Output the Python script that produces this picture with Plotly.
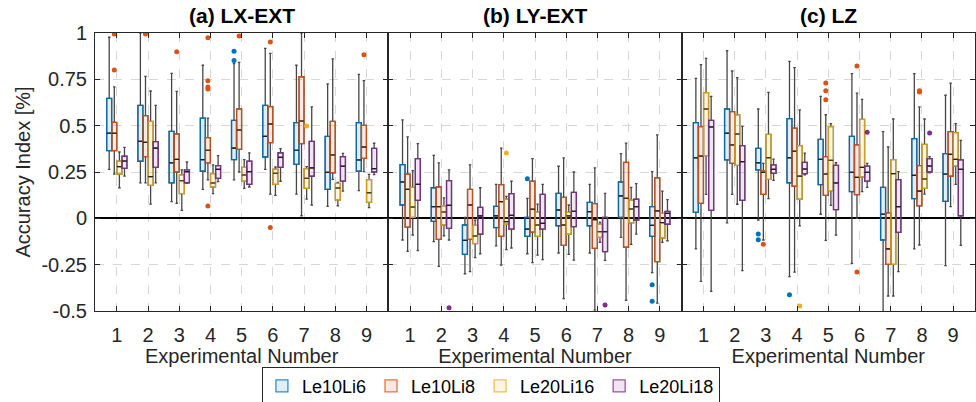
import plotly.graph_objects as go
from plotly.subplots import make_subplots

experiments = [1, 2, 3, 4, 5, 6, 7, 8, 9]
series_names = ["Le10Li6", "Le10Li8", "Le20Li16", "Le20Li18"]
panel_titles = ["<b>(a) LX-EXT</b>", "<b>(b) LY-EXT</b>", "<b>(c) LZ</b>"]
y_tick_vals = [-0.5, -0.25, 0, 0.25, 0.5, 0.75, 1]
y_tick_text = ["-0.5", "-0.25", "0", "0.25", "0.5", "0.75", "1"]

# ---------------- (a) LX-EXT : per series, 9 experiments ----------------
lx_lo = [
    [0.264, 0.191, 0.090, 0.156, 0.207, 0.264, 0.131, 0.065, 0.149],
    [0.239, 0.191, 0.081, 0.207, 0.250, 0.131, 0.014, 0.210, 0.252],
    [0.165, 0.077, 0.043, 0.133, 0.162, 0.124, 0.104, 0.068, 0.058],
    [0.228, 0.191, 0.189, 0.198, 0.169, 0.200, 0.072, 0.147, 0.236],
]
lx_q1 = [
    [0.365, 0.308, 0.191, 0.254, 0.317, 0.331, 0.291, 0.156, 0.254],
    [0.365, 0.333, 0.250, 0.299, 0.372, 0.408, 0.403, 0.245, 0.324],
    [0.239, 0.178, 0.133, 0.169, 0.200, 0.183, 0.162, 0.099, 0.086],
    [0.270, 0.275, 0.192, 0.216, 0.183, 0.275, 0.227, 0.201, 0.250],
]
lx_med = [
    [0.459, 0.415, 0.300, 0.317, 0.379, 0.442, 0.367, 0.248, 0.315],
    [0.459, 0.410, 0.318, 0.367, 0.477, 0.509, 0.525, 0.342, 0.385],
    [0.279, 0.225, 0.203, 0.191, 0.234, 0.243, 0.216, 0.164, 0.138],
    [0.309, 0.379, 0.252, 0.264, 0.252, 0.329, 0.272, 0.281, 0.268],
]
lx_q3 = [
    [0.647, 0.610, 0.469, 0.541, 0.529, 0.610, 0.516, 0.442, 0.516],
    [0.518, 0.554, 0.455, 0.435, 0.590, 0.603, 0.764, 0.523, 0.502],
    [0.308, 0.523, 0.234, 0.241, 0.275, 0.266, 0.268, 0.189, 0.209],
    [0.335, 0.414, 0.261, 0.284, 0.309, 0.354, 0.415, 0.333, 0.378],
]
lx_hi = [
    [0.977, 1.000, 0.782, 0.826, 0.835, 0.917, 0.826, 0.725, 0.777],
    [0.709, 0.766, 0.685, 0.541, 0.842, 0.890, 1.000, 0.860, 0.743],
    [0.358, 0.687, 0.261, 0.288, 0.317, 0.277, 0.279, 0.194, 0.237],
    [0.383, 0.610, 0.304, 0.338, 0.353, 0.376, 0.601, 0.351, 0.405],
]
lx_out_x = [[5, 5], [1, 1, 2, 3, 4, 4, 4, 4, 4, 5, 6, 6, 9], [7], []]
lx_out_y = [[0.901, 0.851],
            [0.995, 0.800, 0.995, 0.899, 0.975, 0.743, 0.709, 0.698, 0.067, 0.984, 0.951, -0.050, 0.883],
            [0.498], []]

# ---------------- (b) LY-EXT ----------------
ly_lo = [
    [-0.117, -0.126, -0.299, -0.149, -0.191, -0.187, -0.187, -0.103, -0.293],
    [-0.178, -0.259, -0.288, -0.252, -0.239, -0.433, -0.495, -0.442, -0.457],
    [-0.090, -0.094, -0.212, -0.169, -0.198, -0.194, -0.129, -0.140, -0.130],
    [-0.174, -0.117, -0.191, -0.160, -0.223, -0.225, -0.227, -0.085, -0.121],
]
ly_q1 = [
    [0.072, -0.016, -0.194, -0.050, -0.097, -0.040, -0.040, 0.005, -0.097],
    [-0.047, -0.113, -0.113, -0.097, -0.074, -0.146, -0.162, -0.156, -0.234],
    [0.005, -0.036, -0.137, -0.032, -0.097, -0.086, -0.103, -0.025, -0.106],
    [0.097, -0.054, -0.086, -0.058, -0.058, -0.045, -0.180, -0.009, -0.032],
]
ly_med = [
    [0.196, 0.063, -0.119, 0.014, -0.058, 0.045, 0.036, 0.121, -0.038],
    [0.156, 0.063, 0.072, 0.090, 0.049, -0.036, -0.007, 0.108, 0.040],
    [0.061, 0.034, -0.095, -0.018, -0.036, 0.013, -0.072, 0.050, -0.023],
    [0.183, 0.070, 0.013, 0.016, -0.027, 0.038, -0.072, 0.063, 0.027],
]
ly_q3 = [
    [0.290, 0.165, -0.036, 0.065, 0.005, 0.135, 0.086, 0.196, 0.063],
    [0.239, 0.169, 0.156, 0.182, 0.200, 0.113, 0.079, 0.302, 0.218],
    [0.167, 0.068, -0.038, 0.103, 0.034, 0.032, -0.031, 0.099, 0.027],
    [0.322, 0.203, 0.059, 0.133, 0.129, 0.140, 0.005, 0.103, 0.038],
]
ly_hi = [
    [0.531, 0.340, 0.005, 0.183, 0.108, 0.281, 0.183, 0.349, 0.252],
    [0.439, 0.299, 0.288, 0.379, 0.322, 0.326, 0.272, 0.406, 0.450],
    [0.257, 0.110, -0.010, 0.119, 0.077, 0.072, -0.020, 0.167, 0.147],
    [0.403, 0.261, 0.165, 0.200, 0.183, 0.250, 0.135, 0.187, 0.101],
]
ly_out_x = [[5, 9, 9], [], [4], [2, 7]]
ly_out_y = [[0.214, -0.358, -0.448], [], [0.353], [-0.482, -0.468]]

# ---------------- (c) LZ ----------------
lz_lo = [
    [-0.165, -0.025, -0.009, -0.315, 0.022, -0.243, -0.560, -0.165, -0.255],
    [-0.340, 0.129, -0.117, -0.290, -0.119, 0.000, -0.419, -0.144, 0.063],
    [0.129, 0.076, 0.106, -0.041, 0.070, 0.144, -0.419, 0.131, 0.183],
    [-0.394, -0.282, 0.205, 0.235, -0.090, 0.167, -0.288, 0.245, -0.146],
]
lz_q1 = [
    [0.032, 0.315, 0.261, 0.192, 0.182, 0.144, -0.117, 0.106, 0.092],
    [0.081, 0.297, 0.129, 0.173, 0.124, 0.128, -0.248, 0.067, 0.227],
    [0.338, 0.286, 0.210, 0.103, 0.149, 0.223, -0.248, 0.162, 0.282],
    [0.043, 0.097, 0.243, 0.241, 0.047, 0.201, -0.076, 0.250, 0.014],
]
lz_med = [
    [0.327, 0.459, 0.300, 0.327, 0.318, 0.248, 0.022, 0.232, 0.239],
    [0.336, 0.396, 0.248, 0.362, 0.239, 0.221, -0.165, 0.147, 0.345],
    [0.590, 0.455, 0.327, 0.228, 0.313, 0.275, 0.241, 0.212, 0.318],
    [0.493, 0.306, 0.264, 0.266, 0.191, 0.248, 0.063, 0.282, 0.264],
]
lz_q3 = [
    [0.516, 0.590, 0.378, 0.538, 0.426, 0.442, 0.167, 0.430, 0.349],
    [0.495, 0.576, 0.257, 0.487, 0.333, 0.396, 0.029, 0.284, 0.468],
    [0.678, 0.558, 0.453, 0.392, 0.495, 0.534, 0.317, 0.399, 0.462],
    [0.529, 0.392, 0.288, 0.302, 0.286, 0.282, 0.209, 0.322, 0.315],
]
lz_hi = [
    [0.755, 0.905, 0.590, 0.847, 0.658, 0.781, 0.468, 0.781, 0.664],
    [0.829, 0.795, 0.297, 0.813, 0.559, 0.676, 0.385, 0.601, 0.730],
    [0.863, 0.759, 0.680, 0.585, 0.511, 0.642, 0.536, 0.536, 0.511],
    [0.658, 0.496, 0.320, 0.352, 0.300, 0.297, 0.252, 0.333, 0.421],
]
lz_out_x = [[3, 3, 4], [3, 5, 5, 5, 6, 6, 8, 8], [4], [6, 8]]
lz_out_y = [[-0.085, -0.115, -0.412],
            [-0.140, 0.730, 0.689, 0.640, 0.822, -0.290, 0.689, 0.682],
            [-0.473], [0.464, 0.460]]

# ---------------- styling ----------------
colors = [(0, 114, 189), (217, 83, 25), (237, 177, 32), (126, 47, 142)]
box_offset = [-0.245, -0.082, 0.082, 0.245]
box_width = 0.16
font_family = "Liberation Sans, Arial, sans-serif"
text_col = "rgb(38,38,38)"

panels = [
    (lx_lo, lx_q1, lx_med, lx_q3, lx_hi, lx_out_x, lx_out_y),
    (ly_lo, ly_q1, ly_med, ly_q3, ly_hi, ly_out_x, ly_out_y),
    (lz_lo, lz_q1, lz_med, lz_q3, lz_hi, lz_out_x, lz_out_y),
]

fig = make_subplots(rows=1, cols=3, shared_yaxes=True, horizontal_spacing=0)

for p, (lo, q1, med, q3, hi, ox, oy) in enumerate(panels):
    col = p + 1
    for s in range(4):
        r, g, b = colors[s]
        pos = [e + box_offset[s] for e in experiments]
        # whiskers (dark grey)
        fig.add_trace(go.Box(
            x=pos, q1=q1[s], median=med[s], q3=q3[s],
            lowerfence=lo[s], upperfence=hi[s],
            width=box_width, whiskerwidth=0.5, boxpoints=False,
            line=dict(color="rgb(70,70,70)", width=1.3),
            fillcolor="rgba(0,0,0,0)", showlegend=False, hoverinfo="skip",
        ), row=1, col=col)
        # coloured box
        fig.add_trace(go.Box(
            x=pos, q1=q1[s], median=med[s], q3=q3[s],
            lowerfence=q1[s], upperfence=q3[s],
            width=box_width, boxpoints=False, name=series_names[s],
            legendgroup=series_names[s], showlegend=(p == 0),
            line=dict(color=f"rgba({r},{g},{b},0.8)", width=1.3),
            fillcolor=f"rgba({r},{g},{b},0.12)", hoverinfo="skip",
        ), row=1, col=col)
        # median line (dark)
        fig.add_trace(go.Box(
            x=pos, q1=med[s], median=med[s], q3=med[s],
            lowerfence=med[s], upperfence=med[s],
            width=box_width, boxpoints=False,
            line=dict(color="rgb(30,30,30)", width=1.1),
            fillcolor="rgba(0,0,0,0)", showlegend=False, hoverinfo="skip",
        ), row=1, col=col)
        # outliers
        if ox[s]:
            fig.add_trace(go.Scatter(
                x=[e + box_offset[s] for e in ox[s]], y=oy[s], mode="markers",
                marker=dict(color=f"rgb({r},{g},{b})", size=5),
                showlegend=False, hoverinfo="skip", cliponaxis=True,
            ), row=1, col=col)

axis_line = "rgb(38,38,38)"
for i in range(1, 4):
    fig.update_xaxes(
        range=[0.3, 9.7], tickvals=experiments, ticktext=[str(e) for e in experiments],
        ticks="inside", ticklen=5, tickcolor=axis_line, mirror="allticks",
        showline=True, linecolor=axis_line, linewidth=1,
        showgrid=True, gridcolor="rgb(215,215,215)", griddash="dash", gridwidth=1,
        zeroline=False, ticklabelstandoff=6,
        tickfont=dict(family=font_family, size=20, color=text_col),
        title=dict(text="Experimental Number", standoff=9,
                   font=dict(family=font_family, size=20, color=text_col)),
        row=1, col=i)
    fig.update_yaxes(
        range=[-0.5, 1], tickvals=y_tick_vals, ticktext=y_tick_text,
        ticks="inside", ticklen=5, tickcolor=axis_line, mirror="allticks",
        showline=True, linecolor=axis_line, linewidth=1,
        showgrid=True, gridcolor="rgb(215,215,215)", griddash="dash", gridwidth=1,
        zeroline=True, zerolinecolor="black", zerolinewidth=2,
        tickfont=dict(family=font_family, size=20, color=text_col),
        row=1, col=i)

fig.update_yaxes(
    title=dict(text="Accuracy Index [%]", standoff=5,
               font=dict(family=font_family, size=20, color=text_col)),
    ticklabelstandoff=3, row=1, col=1)
fig.update_yaxes(showticklabels=False, row=1, col=2)
fig.update_yaxes(showticklabels=False, row=1, col=3)

for i, t in enumerate(panel_titles):
    fig.add_annotation(
        text=t, xref="paper", yref="paper", x=(i + 0.5) / 3, y=1, yshift=4,
        xanchor="center", yanchor="bottom", showarrow=False,
        font=dict(family=font_family, size=21, color="black"))

fig.update_layout(
    width=976, height=402,
    margin=dict(l=95, r=1, t=33, b=91, autoexpand=False),
    paper_bgcolor="white", plot_bgcolor="white",
    boxmode="overlay",
    font=dict(family=font_family, color=text_col),
    legend=dict(
        orientation="h", xref="container", x=0.503, xanchor="center",
        yref="container", y=0.088, yanchor="top",
        bordercolor="rgb(38,38,38)", borderwidth=1, bgcolor="white",
        font=dict(family=font_family, size=18, color="black"),
        itemwidth=30, tracegroupgap=0,
    ),
)

fig.write_html("out.html")
